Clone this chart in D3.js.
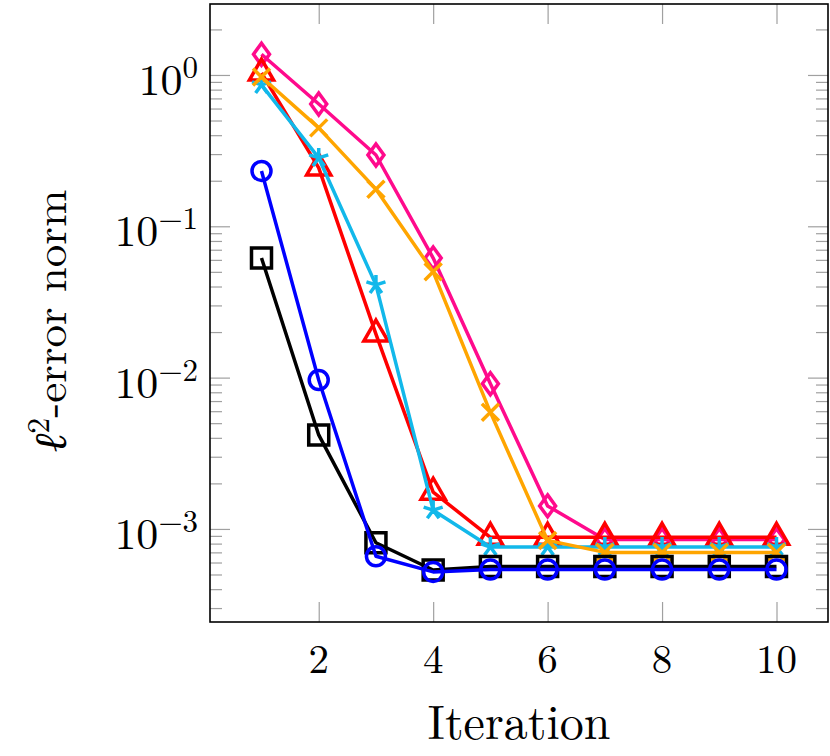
<!DOCTYPE html>
<html>
<head>
<meta charset="utf-8">
<script src="https://cdn.jsdelivr.net/npm/d3@7"></script>
<style>
  body { margin: 0; background: #fff; }
  text { font-family: "Latin Modern Roman", "CMU Serif", "Liberation Serif", serif; fill: #000; }
</style>
</head>
<body>
<div id="chart"></div>
<script>
// Iterations and error norms
const iterations = [1, 2, 3, 4, 5, 6, 7, 8, 9, 10];
const pinkDiamond = [1.37, 0.643, 0.296, 0.0617, 0.0091, 0.00142, 8.5e-4, 8.5e-4, 8.5e-4, 8.5e-4];
const redTriangle = [1.03, 0.243, 0.0194, 0.00175, 8.8e-4, 8.8e-4, 8.8e-4, 8.8e-4, 8.8e-4, 8.8e-4];
const cyanStar = [0.86, 0.283, 0.041, 0.00133, 7.6e-4, 7.6e-4, 7.6e-4, 7.6e-4, 7.6e-4, 7.6e-4];
const orangeCross = [0.97, 0.447, 0.176, 0.050, 0.0059, 8.4e-4, 7.0e-4, 7.0e-4, 7.0e-4, 7.0e-4];
const blackSquare = [0.0618, 0.00418, 8.1e-4, 5.35e-4, 5.65e-4, 5.65e-4, 5.65e-4, 5.65e-4, 5.65e-4, 5.65e-4];
const blueCircle = [0.232, 0.00964, 6.6e-4, 5.2e-4, 5.4e-4, 5.4e-4, 5.4e-4, 5.4e-4, 5.4e-4, 5.4e-4];

const xTicks = [2, 4, 6, 8, 10];
const yTickExponents = [0, -1, -2, -3];

const series = [
    { values: pinkDiamond, color: "#FF0A8C", mark: "diamond" },
    { values: redTriangle, color: "#FF0000", mark: "triangle" },
    { values: cyanStar, color: "#12B8EA", mark: "star" },
    { values: orangeCross, color: "#FFA500", mark: "cross" },
    { values: blackSquare, color: "#000000", mark: "square" },
    { values: blueCircle, color: "#0000FF", mark: "circle" }
];

const W = 830, H = 756;
const margin = { top: 4, right: 2, bottom: 134, left: 210 };
const width = W - margin.left - margin.right;
const height = H - margin.top - margin.bottom;

const svg = d3.select("#chart").append("svg")
    .attr("width", W)
    .attr("height", H);

const g = svg.append("g")
    .attr("transform", `translate(${margin.left},${margin.top})`);

// pgfplots style enlarged limits
const x = d3.scaleLinear().domain([0.1, 10.9]).range([0, width]);
const y = d3.scaleLog().domain([10 ** -3.615, 10 ** 0.469]).range([height, 0]);

const tickColor = "#a0a0a0";

// minor log ticks
const minorTicks = [];
for (let e = -4; e <= 0; e++) {
    for (let m = 2; m <= 9; m++) {
        const v = m * 10 ** e;
        if (v >= y.domain()[0] && v <= y.domain()[1]) minorTicks.push(v);
    }
}
const majorTicks = yTickExponents.map(e => 10 ** e);

function styleTicks(sel) {
    sel.select(".domain").remove();
    sel.selectAll("line").attr("stroke", tickColor).attr("stroke-width", 1.2);
}

g.append("g").call(d3.axisLeft(y).tickValues(minorTicks).tickSize(-12).tickFormat("")).call(styleTicks);
g.append("g").call(d3.axisLeft(y).tickValues(majorTicks).tickSize(-20).tickFormat("")).call(styleTicks);
g.append("g").attr("transform", `translate(${width},0)`)
    .call(d3.axisRight(y).tickValues(minorTicks).tickSize(-12).tickFormat("")).call(styleTicks);
g.append("g").attr("transform", `translate(${width},0)`)
    .call(d3.axisRight(y).tickValues(majorTicks).tickSize(-20).tickFormat("")).call(styleTicks);
g.append("g").attr("transform", `translate(0,${height})`)
    .call(d3.axisBottom(x).tickValues(xTicks).tickSize(-20).tickFormat("")).call(styleTicks);
g.append("g")
    .call(d3.axisTop(x).tickValues(xTicks).tickSize(-20).tickFormat("")).call(styleTicks);

// x tick labels
g.selectAll(".xlab")
    .data(xTicks)
    .enter().append("text")
    .attr("class", "xlab")
    .attr("x", d => x(d))
    .attr("y", height + 51)
    .attr("text-anchor", "middle")
    .style("font-size", "41px")
    .text(d => d);

// y tick labels 10^e, right-aligned just left of the axis
yTickExponents.forEach(e => {
    const t = g.append("text")
        .attr("x", -12)
        .attr("y", y(10 ** e) + 20)
        .attr("text-anchor", "end")
        .style("font-size", "44px");
    t.append("tspan").text("10");
    t.append("tspan")
        .attr("dy", -17)
        .style("font-size", "31px")
        .text(e === 0 ? "0" : "\u2212" + Math.abs(e));
});

// axis titles
g.append("text")
    .attr("x", width / 2)
    .attr("y", height + 117)
    .attr("text-anchor", "middle")
    .style("font-size", "48px")
    .text("Iteration");

const yl = svg.append("text")
    .attr("transform", `translate(66,${margin.top + height / 2 + 8}) rotate(-90)`)
    .attr("text-anchor", "middle")
    .style("font-size", "45px");
yl.append("tspan").style("font-style", "italic").text("\u2113");
yl.append("tspan").attr("dy", -17).style("font-size", "32px").text("2");
yl.append("tspan").attr("dy", 17).text("-error norm");

// marks
function markPath(type) {
    switch (type) {
        case "diamond": return "M0,-11L8,0L0,11L-8,0Z";
        case "triangle": return "M0,-14L12.1,7L-12.1,7Z";
        case "square": return "M-10,-10L10,-10L10,10L-10,10Z";
        case "circle": return "M9.5,0A9.5,9.5 0 1,1 -9.5,0A9.5,9.5 0 1,1 9.5,0Z";
        case "cross": return "M-8.5,-8.5L8.5,8.5M-8.5,8.5L8.5,-8.5";
        case "star": {
            let p = "";
            for (let k = 0; k < 5; k++) {
                const a = -Math.PI / 2 + k * 2 * Math.PI / 5;
                p += `M0,0L${(10 * Math.cos(a)).toFixed(2)},${(10 * Math.sin(a)).toFixed(2)}`;
            }
            return p;
        }
    }
}

const line = d3.line()
    .x((d, i) => x(iterations[i]))
    .y(d => y(d));

series.forEach(s => {
    const sg = g.append("g");
    sg.append("path")
        .datum(s.values)
        .attr("fill", "none")
        .attr("stroke", s.color)
        .attr("stroke-width", 3.5)
        .attr("stroke-linejoin", "round")
        .attr("d", line);
    sg.selectAll("path.mark")
        .data(s.values)
        .enter().append("path")
        .attr("class", "mark")
        .attr("transform", (d, i) => `translate(${x(iterations[i])},${y(d)})`)
        .attr("d", markPath(s.mark))
        .attr("fill", "none")
        .attr("stroke", s.color)
        .attr("stroke-width", 3.5);
});

// axis box
g.append("rect")
    .attr("x", 0).attr("y", 0)
    .attr("width", width).attr("height", height)
    .attr("fill", "none")
    .attr("stroke", "#000")
    .attr("stroke-width", 1.6);
</script>
</body>
</html>
